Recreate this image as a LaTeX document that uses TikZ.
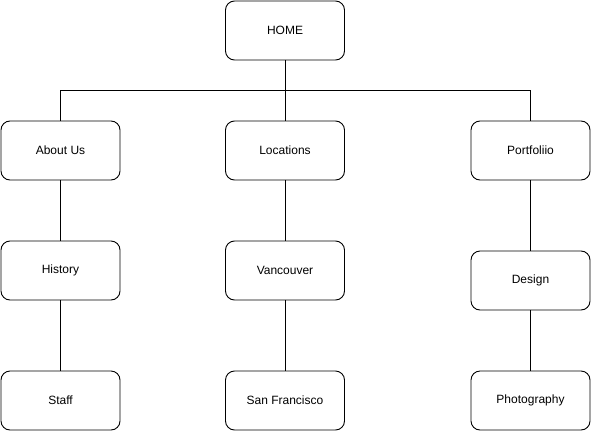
\documentclass[tikz,border=0pt]{standalone}
\usepackage{fontspec}
\setmainfont{Liberation Sans}
\usepackage{tikz}

\begin{document}
\begin{tikzpicture}[pagebox/.style={rectangle, draw=black, rounded corners=9pt, line width=0.9pt, minimum width=119pt, minimum height=59pt, inner sep=0pt, font=\fontsize{12}{14}\selectfont}, x=1pt, y=1pt]
\useasboundingbox (0,0) rectangle (591,-431);
\node[pagebox] (home) at (285.0, -30.5) {HOME};
\node[pagebox] (about) at (60.5, -150.5) {About Us};
\node[pagebox] (locations) at (285.0, -150.5) {Locations};
\node[pagebox] (portfolio) at (530.5, -150.5) {Portfoliio};
\node[pagebox] (history) at (60.5, -270.5) {History};
\node[pagebox] (vancouver) at (285.0, -270.5) {Vancouver};
\node[pagebox] (design) at (530.5, -280.5) {Design};
\node[pagebox] (staff) at (60.5, -400.5) {Staff};
\node[pagebox] (sanfran) at (285.0, -400.5) {San Francisco};
\node[pagebox] (photo) at (530.5, -400.5) {Photography};
\coordinate (bus) at (285.0, -90.0);
\draw[line width=0.9pt] (home) -- (bus);
\draw[line width=0.9pt] (bus) -| (about);
\draw[line width=0.9pt] (bus) -- (locations);
\draw[line width=0.9pt] (bus) -| (portfolio);
\draw[line width=0.9pt] (about) -- (history);
\draw[line width=0.9pt] (history) -- (staff);
\draw[line width=0.9pt] (locations) -- (vancouver);
\draw[line width=0.9pt] (vancouver) -- (sanfran);
\draw[line width=0.9pt] (portfolio) -- (design);
\draw[line width=0.9pt] (design) -- (photo);
\end{tikzpicture}
\end{document}
